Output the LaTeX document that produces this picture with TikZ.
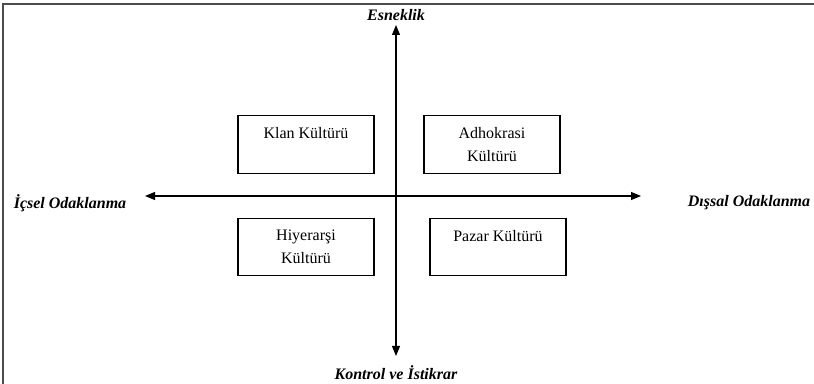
\documentclass[tikz,border=0pt]{standalone}
\usepackage{fontspec}
\setmainfont{Liberation Serif}
\usetikzlibrary{arrows.meta}
\tikzset{
  kutu/.style={draw, line width=0.9pt, minimum width=102pt, minimum height=43pt,
    align=center, inner sep=0pt, font=\fontsize{12}{17}\selectfont},
  eksen/.style={line width=0.8pt, -{Triangle[length=7.5pt,width=6pt]}},
  baslik/.style={font=\fontsize{12}{14}\selectfont\bfseries\itshape}
}
\begin{document}
\begin{tikzpicture}[x=0.75pt,y=-0.75pt]
  \useasboundingbox (0,0) rectangle (814,384);
  \draw[line width=1.4pt, black!70] (3,384) -- (3,4) -- (814,4);
  \coordinate (O) at (396,196);
  \coordinate (N) at (396,25);
  \coordinate (S) at (396,356);
  \coordinate (W) at (145,196);
  \coordinate (E) at (641,196);
  \draw[eksen] (O) -- (N);
  \draw[eksen] (O) -- (S);
  \draw[eksen] (O) -- (W);
  \draw[eksen] (O) -- (E);
  \node[baslik] (esnek) at (396,15) {Esneklik};
  \node[baslik] (kontrol) at (396,373) {Kontrol ve İstikrar};
  \node[baslik] (icsel) at (70,203) {İçsel Odaklanma};
  \node[baslik] (dissal) at (749,203) {Dışsal Odaklanma};
  \node[kutu] (klan) at (306,144.5) {Klan Kültürü\\\mbox{}};
  \node[kutu] (adhok) at (492,144.5) {Adhokrasi\\Kültürü};
  \node[kutu] (hiyer) at (306,247) {Hiyerarşi\\Kültürü};
  \node[kutu] (pazar) at (498,247) {Pazar Kültürü\\\mbox{}};
\end{tikzpicture}
\end{document}
